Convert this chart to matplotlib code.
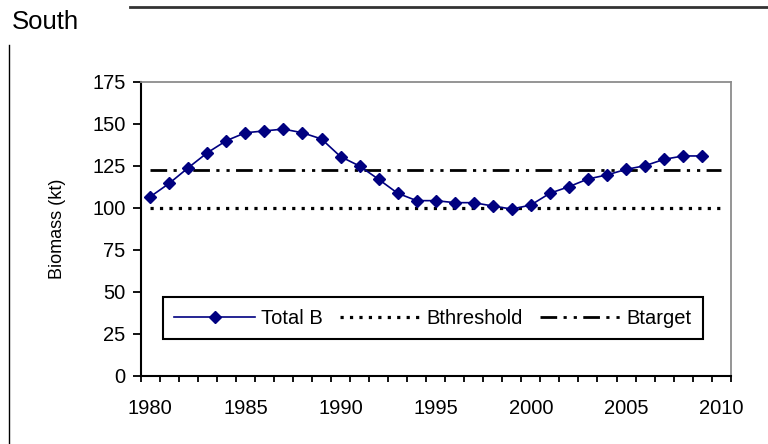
import matplotlib
matplotlib.use("Agg")
import matplotlib.pyplot as plt
from matplotlib.ticker import FixedLocator, NullFormatter

plt.rcParams['font.family'] = ['Liberation Sans', 'DejaVu Sans']
plt.rcParams['lines.scale_dashes'] = False

# ---- data ----
years = [1980, 1981, 1982, 1983, 1984, 1985, 1986, 1987, 1988, 1989,
         1990, 1991, 1992, 1993, 1994, 1995, 1996, 1997, 1998, 1999,
         2000, 2001, 2002, 2003, 2004, 2005, 2006, 2007, 2008, 2009]
total_b = [106.5, 114.5, 123.8, 132.7, 139.9, 144.6, 145.7, 146.8, 144.6, 140.9,
           130.4, 124.8, 116.9, 108.6, 104.2, 104.2, 103.0, 103.0, 101.0, 99.2,
           101.6, 108.6, 112.5, 117.1, 119.5, 122.8, 125.0, 128.8, 130.8, 130.8]
ref_years = [1980, 2010]
bthreshold = [100, 100]
btarget = [122.5, 122.5]
yticks = [0, 25, 50, 75, 100, 125, 150, 175]
xlabels = [1980, 1985, 1990, 1995, 2000, 2005, 2010]
series_names = ["Total B", "Bthreshold", "Btarget"]

W, H = 768, 444
fig = plt.figure(figsize=(W / 100, H / 100), dpi=100)

# axes placement (pixels)
x0, x1, ytop, ybot = 140.7, 730.7, 81.7, 375.7
ax = fig.add_axes([x0 / W, (H - ybot) / H, (x1 - x0) / W, (ybot - ytop) / H])

navy = '#000080'
ax.plot(years, total_b, color=navy, lw=1.2, marker='D', ms=6.6,
        mfc=navy, mec=navy, label=series_names[0], zorder=3)
ax.plot(ref_years, bthreshold, color='black', lw=2.3,
        linestyle=(0, (2.3, 4.5)), dash_capstyle='butt', label=series_names[1], zorder=2)
ax.plot(ref_years, btarget, color='black', lw=2.0,
        linestyle=(0, (12, 4.6, 2.3, 5.0, 2.3, 4.6)), dash_capstyle='butt',
        label=series_names[2], zorder=2)

ax.set_xlim(1979.5, 2010.5)
ax.set_ylim(0, 175)

ax.set_yticks(yticks)
ax.tick_params(axis='y', which='major', direction='out', length=5.8, width=1.3,
               pad=5, labelsize=14.5, colors='black')

ax.xaxis.set_major_locator(FixedLocator(xlabels))
ax.xaxis.set_minor_locator(FixedLocator([y - 0.5 for y in range(1980, 2012)]))
ax.xaxis.set_minor_formatter(NullFormatter())
ax.set_xticklabels([str(v) for v in xlabels])
ax.tick_params(axis='x', which='major', length=0, pad=17, labelsize=14.5)
ax.tick_params(axis='x', which='minor', direction='out', length=4.3, width=1.3)

for side in ('left', 'bottom'):
    ax.spines[side].set_color('black')
    ax.spines[side].set_linewidth(1.5)
for side in ('top', 'right'):
    ax.spines[side].set_color('#8c8c8c')
    ax.spines[side].set_linewidth(1.3)

fig.text(58 / W, (H - 228.7) / H, 'Biomass (kt)', rotation=90,
         ha='center', va='center', fontsize=13)

leg = ax.legend(loc='center', bbox_to_anchor=(0.4954, 0.196), ncol=3,
                fontsize=14.5, handlelength=4.0, handletextpad=0.3,
                columnspacing=0.85, numpoints=1, frameon=True, fancybox=False,
                borderpad=0.55, borderaxespad=0)
leg.get_frame().set_edgecolor('black')
leg.get_frame().set_linewidth(1.5)
leg.get_frame().set_facecolor('white')
leg.get_frame().set_alpha(1)

# outer decorations
fig.text(12 / W, (H - 22) / H, 'South', fontsize=18.5, ha='left', va='center')
fig.add_artist(plt.Line2D([130 / W, 1.0], [(H - 7) / H, (H - 7) / H],
                          color='#333333', lw=2.0, transform=fig.transFigure))
fig.add_artist(plt.Line2D([9 / W, 9 / W], [0, (H - 45) / H],
                          color='black', lw=1.0, transform=fig.transFigure))

fig.savefig('out.png', dpi=100)
